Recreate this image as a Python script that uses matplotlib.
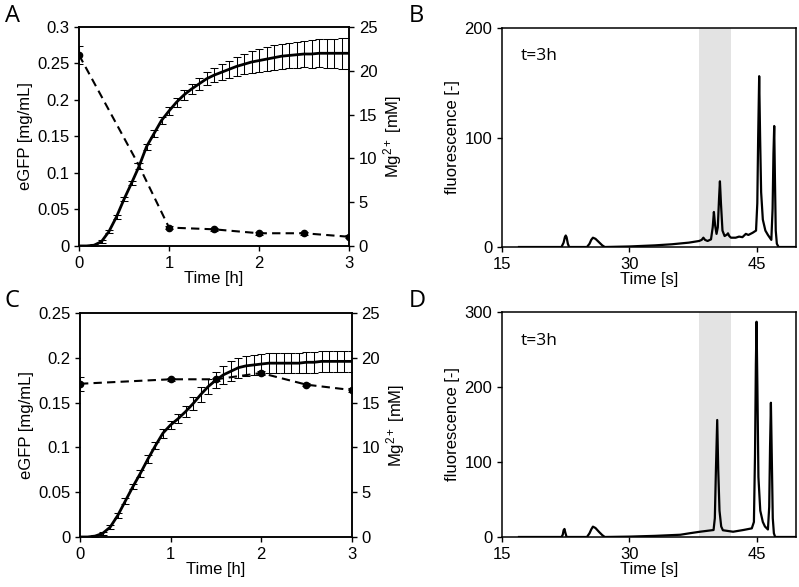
import matplotlib
matplotlib.use("Agg")
import matplotlib.pyplot as plt
import numpy as np
from matplotlib.ticker import FuncFormatter

plt.rcParams['font.family'] = ['Liberation Sans', 'DejaVu Sans']
plt.rcParams['mathtext.fontset'] = 'custom'
plt.rcParams['mathtext.rm'] = 'Liberation Sans'
plt.rcParams['mathtext.it'] = 'Liberation Sans:italic'
plt.rcParams['font.size'] = 11.5
plt.rcParams['axes.linewidth'] = 1.1
plt.rcParams['xtick.major.size'] = 3.5
plt.rcParams['ytick.major.size'] = 3.5
plt.rcParams['xtick.major.width'] = 1.0
plt.rcParams['ytick.major.width'] = 1.0
plt.rcParams['xtick.labelsize'] = 12
plt.rcParams['ytick.labelsize'] = 12

# ~~~~~~~~~~~~ data ~~~~~~~~~~~~
# eGFP sampled every 5 min, 0..3 h
t_egfp = [i / 12 for i in range(37)]

egfp_A = [0.000, 0.000, 0.001, 0.006, 0.020, 0.040, 0.064, 0.086, 0.109, 0.136,
          0.154, 0.172, 0.185, 0.197, 0.207, 0.215, 0.222, 0.229, 0.234, 0.238,
          0.242, 0.246, 0.249, 0.252, 0.254, 0.256, 0.258, 0.260, 0.261, 0.262,
          0.263, 0.263, 0.264, 0.264, 0.264, 0.264, 0.264]
err_A = [0.001, 0.001, 0.001, 0.002, 0.002, 0.003, 0.003, 0.003, 0.004, 0.004,
         0.005, 0.005, 0.006, 0.006, 0.007, 0.007, 0.008, 0.009, 0.010, 0.011,
         0.012, 0.013, 0.014, 0.015, 0.016, 0.016, 0.017, 0.017, 0.017, 0.018,
         0.018, 0.019, 0.019, 0.020, 0.020, 0.021, 0.021]

egfp_C = [0.000, 0.000, 0.001, 0.004, 0.011, 0.024, 0.040, 0.056, 0.071, 0.087,
          0.102, 0.116, 0.125, 0.132, 0.140, 0.149, 0.159, 0.168, 0.175, 0.181,
          0.185, 0.189, 0.191, 0.192, 0.193, 0.194, 0.194, 0.194, 0.194, 0.194,
          0.195, 0.195, 0.196, 0.196, 0.196, 0.196, 0.196]
err_C = [0.001, 0.001, 0.001, 0.002, 0.002, 0.003, 0.003, 0.003, 0.004, 0.004,
         0.004, 0.005, 0.005, 0.005, 0.006, 0.007, 0.008, 0.008, 0.009, 0.010,
         0.011, 0.011, 0.011, 0.011, 0.011, 0.011, 0.011, 0.011, 0.011, 0.011,
         0.012, 0.012, 0.012, 0.012, 0.012, 0.012, 0.012]

# Mg2+ concentration [mM]
t_mg_A = [0, 0.65, 1, 1.5, 2, 2.5, 3]
mg_A = [21.8, 9.5, 2.1, 1.9, 1.45, 1.45, 1.05]
mg_err_A = [1.0, 0.0, 0.2, 0.15, 0.15, 0.15, 0.15]
mark_A = [0, 2, 3, 4, 5, 6]   # the 0.65 h point has no marker in the original

t_mg_C = [0, 1, 1.5, 2, 2.5, 3]
mg_C = [17.1, 17.6, 17.6, 18.3, 17.0, 16.4]
mg_err_C = [0.8, 0.2, 0.2, 0.2, 0.2, 0.2]
mark_C = [0, 1, 2, 3, 4, 5]

# electropherograms at t=3h
t_B = [17.0, 22.0, 22.25, 22.4, 22.5, 22.6, 22.75, 22.9, 25.0, 25.3, 25.5, 25.7,
       26.0, 26.4, 26.8, 27.1, 30.0, 33.0, 35.0, 37.0, 38.2, 38.5, 38.7, 38.9,
       39.2, 39.6, 39.8, 39.94, 40.08, 40.25, 40.4, 40.55, 40.65, 40.77, 40.95,
       41.2, 41.5, 41.6, 41.75, 41.95, 42.5, 42.9, 43.3, 43.7, 44.0, 44.5, 44.9,
       45.05, 45.15, 45.27, 45.38, 45.5, 45.7, 46.0, 46.3, 46.7, 46.85, 46.95,
       47.04, 47.12, 47.22, 47.35, 47.55, 49.6]
f_B = [0, 0, 4, 9, 10.5, 9, 3, 0, 0, 3, 6.5, 8.5,
       7.5, 4.5, 1.5, 0, 0.5, 1.5, 2.5, 4, 5.5, 6.5, 8.5, 6.5,
       5.5, 7, 18, 32, 20, 12, 18, 45, 60, 40, 15,
       10, 11.5, 12.5, 10, 8.5, 8.5, 9.5, 9, 12, 11, 13, 15,
       40, 100, 156, 100, 50, 25, 15, 11, 6.5, 35, 85,
       110.5, 65, 15, 3, 0, 0]

t_D = [17.0, 22.0, 22.15, 22.25, 22.35, 22.45, 22.6, 25.0, 25.3, 25.5, 25.7,
       26.0, 26.4, 26.8, 27.1, 30.0, 33.0, 36.0, 37.1, 38.3, 39.9, 40.05, 40.18,
       40.33, 40.45, 40.6, 40.8, 41.0, 42.2, 43.4, 44.4, 44.65, 44.78, 44.88,
       44.96, 45.06, 45.18, 45.4, 45.7, 45.95, 46.3, 46.45, 46.55, 46.65, 46.75,
       46.87, 47.0, 47.15, 49.6]
f_D = [0, 0, 3, 9, 10.7, 6, 0, 0, 5, 10, 13.8,
       12, 7, 2.5, 0, 0.5, 1.5, 3, 5, 7, 9.3, 25, 90,
       156, 90, 35, 14, 9, 7, 9.3, 11.5, 20, 110, 230,
       287, 200, 80, 35, 20, 14, 10, 40, 120, 179, 110,
       25, 5, 0, 0]

shade = (38.2, 41.9)

fmt = FuncFormatter(lambda v, p: '%g' % round(v, 3))


def kinetics(ax, egfp, err, tmg, mg, mgerr, marks, ymax, yticks):
    ax.errorbar(t_egfp, egfp, yerr=err, color='k', lw=2.0, elinewidth=0.75,
                capsize=2.6, capthick=0.75, zorder=3)
    ax.set_xlim(0, 3)
    ax.set_ylim(0, ymax)
    ax.set_xticks([0, 1, 2, 3])
    ax.set_yticks(yticks)
    ax.yaxis.set_major_formatter(fmt)
    ax.set_xlabel('Time [h]', labelpad=0, fontsize=12)
    ax.set_ylabel('eGFP [mg/mL]', labelpad=3, fontsize=12)
    ax2 = ax.twinx()
    ax2.errorbar(tmg, mg, yerr=mgerr, color='k', lw=1.5, ls=(0, (4, 2.5)),
                 marker='o', ms=4.5, markevery=marks, elinewidth=0.75,
                 capsize=2.6, capthick=0.75)
    ax2.set_ylim(0, 25)
    ax2.set_yticks([0, 5, 10, 15, 20, 25])
    ax2.set_ylabel('Mg$^{2+}$ [mM]', labelpad=3, fontsize=12)
    return ax2


def trace(ax, t, f, ymax, yticks):
    ax.axvspan(shade[0], shade[1], color='#e3e3e3', lw=0, zorder=0)
    ax.plot(t, f, color='k', lw=1.6)
    ax.set_xlim(15, 49.6)
    ax.set_ylim(0, ymax)
    ax.set_xticks([15, 30, 45])
    ax.set_yticks(yticks)
    ax.set_xlabel('Time [s]', labelpad=0, fontsize=12)
    ax.set_ylabel('fluorescence [-]', labelpad=3, fontsize=12)
    ax.text(0.064, 0.87, 't=3h', transform=ax.transAxes, fontsize=12.5,
            family='Open Sans', va='center')


fig = plt.figure(figsize=(7.99, 5.87), dpi=100)
axA = fig.add_axes([0.0989, 0.581, 0.3379, 0.373])
axB = fig.add_axes([0.6283, 0.5792, 0.3679, 0.3731])
axC = fig.add_axes([0.1001, 0.0852, 0.3401, 0.3816])
axD = fig.add_axes([0.6283, 0.0852, 0.3679, 0.3833])

kinetics(axA, egfp_A, err_A, t_mg_A, mg_A, mg_err_A, mark_A, 0.3,
         [0, 0.05, 0.1, 0.15, 0.2, 0.25, 0.3])
kinetics(axC, egfp_C, err_C, t_mg_C, mg_C, mg_err_C, mark_C, 0.25,
         [0, 0.05, 0.1, 0.15, 0.2, 0.25])
trace(axB, t_B, f_B, 200, [0, 100, 200])
trace(axD, t_D, f_D, 300, [0, 100, 200, 300])

# panel letters
for lbl, x, y in [('A', 0.006, 0.972), ('B', 0.511, 0.972),
                  ('C', 0.006, 0.487), ('D', 0.511, 0.487)]:
    fig.text(x, y, lbl, fontsize=17, family='Open Sans', va='center')

plt.savefig('out.png', dpi=100)
